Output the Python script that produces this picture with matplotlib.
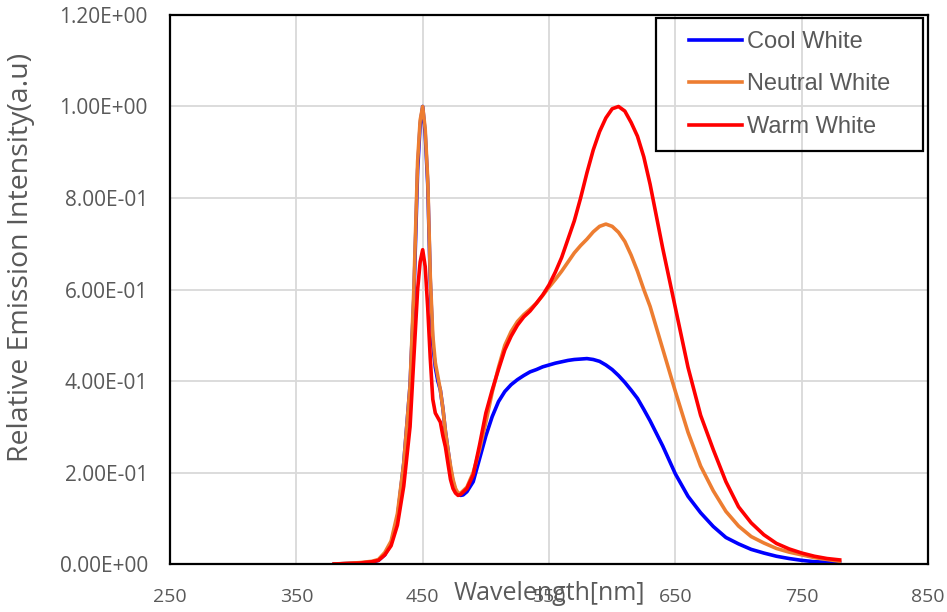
import numpy as np
import matplotlib
matplotlib.use("Agg")
import matplotlib.pyplot as plt
from matplotlib.patches import Rectangle
from matplotlib.transforms import IdentityTransform

# Spectra (wavelength in nm, relative intensity)
wavelength = [380, 400, 410, 415, 420, 425, 430, 435, 440, 443, 446, 448, 450,
              452, 454, 456, 458, 460, 462, 464, 466, 468, 470, 472, 474, 476,
              478, 480, 482, 485, 490, 495, 500, 505, 510, 515, 520, 525, 530,
              535, 540, 545, 550, 555, 560, 565, 570, 575, 580, 585, 590, 595,
              600, 605, 610, 615, 620, 625, 630, 640, 650, 660, 670, 680, 690,
              700, 710, 720, 730, 740, 750, 760, 770, 780]

cool_white = [0.0, 0.002, 0.004, 0.008, 0.02, 0.045, 0.10, 0.22, 0.39, 0.58, 0.86, 0.96, 1.0,
              0.94, 0.83, 0.62, 0.48, 0.43, 0.40, 0.38, 0.34, 0.29, 0.25, 0.21, 0.18, 0.16,
              0.152, 0.15, 0.151, 0.158, 0.18, 0.23, 0.28, 0.322, 0.355, 0.377, 0.392, 0.403, 0.412,
              0.42, 0.425, 0.431, 0.435, 0.439, 0.442, 0.445, 0.447, 0.448, 0.449, 0.447, 0.443, 0.435,
              0.425, 0.412, 0.397, 0.38, 0.362, 0.338, 0.313, 0.258, 0.197, 0.148, 0.112, 0.082, 0.058,
              0.044, 0.032, 0.024, 0.017, 0.012, 0.008, 0.005, 0.004, 0.003]

neutral_white = [0.0, 0.003, 0.006, 0.01, 0.025, 0.05, 0.11, 0.22, 0.39, 0.60, 0.88, 0.97, 1.0,
                 0.95, 0.84, 0.63, 0.50, 0.44, 0.41, 0.38, 0.34, 0.29, 0.25, 0.215, 0.185, 0.165,
                 0.155, 0.155, 0.16, 0.168, 0.20, 0.25, 0.31, 0.375, 0.43, 0.478, 0.508, 0.53, 0.545,
                 0.557, 0.57, 0.587, 0.605, 0.622, 0.64, 0.66, 0.68, 0.696, 0.71, 0.726, 0.738, 0.743,
                 0.738, 0.725, 0.705, 0.675, 0.64, 0.60, 0.563, 0.47, 0.377, 0.288, 0.214, 0.16, 0.115,
                 0.083, 0.06, 0.046, 0.034, 0.026, 0.02, 0.014, 0.01, 0.006]

warm_white = [0.0, 0.002, 0.005, 0.008, 0.02, 0.04, 0.085, 0.17, 0.30, 0.45, 0.60, 0.66, 0.687,
              0.65, 0.56, 0.45, 0.36, 0.33, 0.32, 0.31, 0.28, 0.256, 0.22, 0.185, 0.165, 0.155,
              0.15, 0.152, 0.157, 0.165, 0.195, 0.26, 0.33, 0.38, 0.425, 0.468, 0.498, 0.522, 0.54,
              0.553, 0.57, 0.588, 0.61, 0.638, 0.67, 0.71, 0.75, 0.80, 0.855, 0.905, 0.945, 0.975,
              0.995, 1.0, 0.99, 0.965, 0.935, 0.89, 0.83, 0.69, 0.56, 0.43, 0.325, 0.25, 0.18,
              0.125, 0.09, 0.064, 0.045, 0.033, 0.024, 0.017, 0.012, 0.009]

series_names = ["Cool White", "Neutral White", "Warm White"]
series_colors = ["#0000FF", "#ED7D31", "#FF0000"]

x_ticks = [250, 350, 450, 550, 650, 750, 850]
y_ticks = [0.0, 0.2, 0.4, 0.6, 0.8, 1.0, 1.2]

plt.rcParams["font.family"] = ["Open Sans", "DejaVu Sans"]
text_gray = "#595959"

fig = plt.figure(figsize=(9.47, 6.12), dpi=100)
ax = fig.add_axes([0.1795, 0.0784, 0.8005, 0.8971])

for values, name, color in zip([cool_white, neutral_white, warm_white], series_names, series_colors):
    ax.plot(wavelength, values, color=color, linewidth=2.6, label=name)

ax.set_xlim(250, 850)
ax.set_ylim(0, 1.2)
ax.set_xticks(x_ticks)
ax.set_yticks(y_ticks)
ax.set_yticklabels([f"{v:.2E}" for v in y_ticks])
ax.tick_params(axis="both", length=0, labelcolor=text_gray)
ax.tick_params(axis="x", pad=17, labelsize=14)
ax.tick_params(axis="y", pad=16, labelsize=15)

ax.grid(True, color="#d9d9d9", linewidth=1.3)
ax.set_axisbelow(True)
for spine in ax.spines.values():
    spine.set_color("black")
    spine.set_linewidth(1.6)

ax.set_xlabel("Wavelength[nm]", fontsize=18, color=text_gray, va="center")
ax.xaxis.set_label_coords(0.5, -0.053)
ax.set_ylabel("Relative Emission Intensity(a.u)", fontsize=20.5, color=text_gray, va="center")
ax.yaxis.set_label_coords(-0.196, 0.559)

# legend in Arial-like font, box drawn unfilled so the grid shows through
leg = ax.legend(loc="upper right", bbox_to_anchor=(0.9655, 0.9927),
                prop={"family": "Liberation Sans", "size": 17},
                frameon=False, handlelength=2.25, handletextpad=0.2,
                labelspacing=0.87, borderpad=0.0)
for t in leg.get_texts():
    t.set_color(text_gray)

fig.canvas.draw()
bb = leg.get_window_extent()
pad_x, pad_y = 33, 13
box = Rectangle((bb.x0 - pad_x, bb.y0 - pad_y), bb.width + 2 * pad_x, bb.height + 2 * pad_y,
                transform=IdentityTransform(), fill=False, edgecolor="black", linewidth=1.6)
fig.add_artist(box)

fig.savefig("out.png", dpi=100)
